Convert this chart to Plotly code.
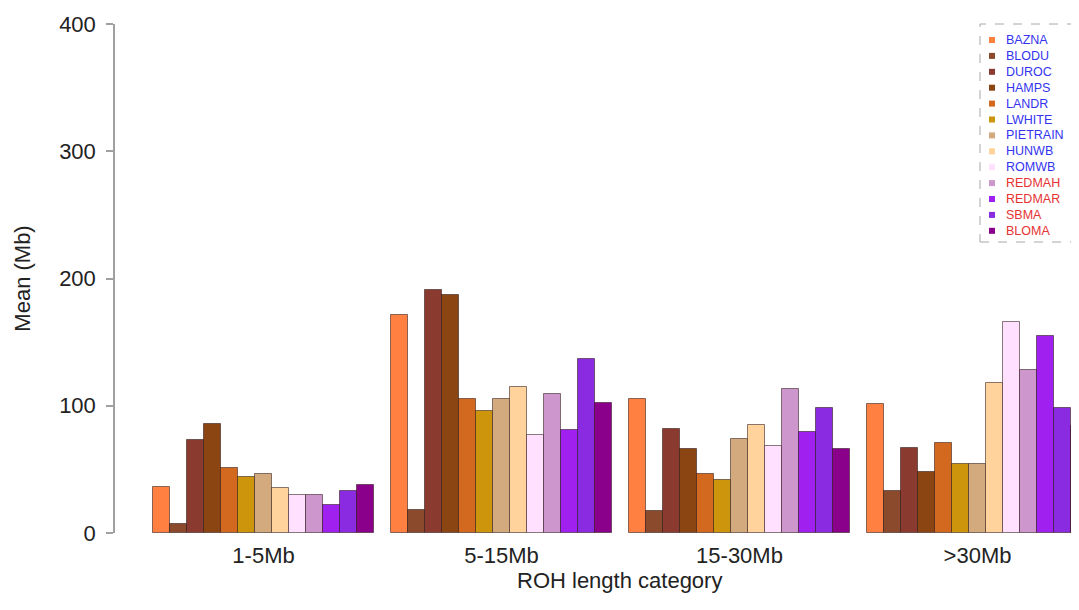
import plotly.graph_objects as go

categories = ["1-5Mb", "5-15Mb", "15-30Mb", ">30Mb"]
breeds = ["BAZNA", "BLODU", "DUROC", "HAMPS", "LANDR", "LWHITE", "PIETRAIN",
          "HUNWB", "ROMWB", "REDMAH", "REDMAR", "SBMA", "BLOMA"]
label_colors = ["#3434EE"] * 9 + ["#E63232"] * 4
colors = ["#FF8040", "#8B4A2B", "#8B3A2F", "#8B4513", "#D2691E", "#CD950C",
          "#D2AA7D", "#FFD39B", "#FFE1FF", "#CD96CD", "#A020F0", "#8A2BE2", "#8B008B"]

# mean values (Mb) per breed, one per category
values = {
    "BAZNA":    [36, 171, 105, 101],
    "BLODU":    [7, 18, 17, 33],
    "DUROC":    [73, 191, 82, 67],
    "HAMPS":    [86, 187, 66, 48],
    "LANDR":    [51, 105, 46, 71],
    "LWHITE":   [44, 96, 42, 54],
    "PIETRAIN": [46, 105, 74, 54],
    "HUNWB":    [35, 115, 85, 118],
    "ROMWB":    [30, 77, 68, 166],
    "REDMAH":   [30, 109, 113, 128],
    "REDMAR":   [22, 81, 79, 155],
    "SBMA":     [33, 137, 98, 98],
    "BLOMA":    [38, 102, 66, 84],
}
y_ticks = [0, 100, 200, 300, 400]
x_title = "ROH length category"
y_title = "Mean (Mb)"

nb = len(breeds)
group_w = nb + 1

fig = go.Figure()
for i, b in enumerate(breeds):
    xs = [1 + group_w * g + i + 0.5 for g in range(len(categories))]
    fig.add_trace(go.Bar(
        x=xs, y=values[b], width=1.0, name=b, showlegend=False,
        marker=dict(color=colors[i], line=dict(color="rgba(40,20,20,0.55)", width=1)),
    ))

centers = [1 + group_w * g + nb / 2 for g in range(len(categories))]

FONT = "Liberation Sans, Arial, sans-serif"
# page body has an 8px margin, so the figure is sized to fit the window
fig.update_layout(
    width=1071, height=602,
    margin=dict(l=107, r=0, t=16, b=77),
    paper_bgcolor="white", plot_bgcolor="white",
    barmode="overlay", bargap=0,
    font=dict(family=FONT, color="#222222"),
    xaxis=dict(range=[-1.235, 55.47], tickvals=centers, ticktext=categories,
               showline=False, showgrid=False, zeroline=False, ticks="",
               tickfont=dict(size=22, color="#222222"), ticklabelstandoff=7),
    yaxis=dict(range=[0, 400], tickvals=y_ticks, showgrid=False, zeroline=False,
               showline=True, linecolor="#A0A0A0", linewidth=1.5,
               ticks="outside", ticklen=7, tickcolor="#A0A0A0", tickwidth=1.5,
               tickfont=dict(size=22, color="#222222"), ticklabelstandoff=6,
               title=dict(text=y_title, font=dict(size=22, color="#222222"), standoff=22)),
)

# helpers: target-picture pixel -> paper coordinates
def px_x(p):
    return (p - 115) / 964

def px_y(p):
    return (533 - p) / 509

# x-axis title, centred on the full (cropped) plot region as in the original
fig.add_annotation(xref="paper", yref="paper", x=px_x(619), y=px_y(580),
                   xanchor="center", yanchor="middle", showarrow=False,
                   text=x_title, font=dict(size=22, color="#222222", family=FONT))

# legend box (dashed)
fig.add_shape(type="rect", xref="paper", yref="paper",
              x0=px_x(980), x1=px_x(1072), y0=px_y(242), y1=px_y(24),
              line=dict(color="#A8A8A8", width=1, dash="dash"))

for i, b in enumerate(breeds):
    yc = 40 + 15.9 * i
    fig.add_shape(type="rect", xref="paper", yref="paper",
                  x0=px_x(989), x1=px_x(995), y0=px_y(yc + 3), y1=px_y(yc - 3),
                  fillcolor=colors[i], line=dict(width=0))
    fig.add_annotation(xref="paper", yref="paper", x=px_x(1004), y=px_y(yc),
                       xanchor="left", yanchor="middle", showarrow=False,
                       text=b, font=dict(size=12.5, color=label_colors[i], family=FONT))

fig.write_html("out.html")
